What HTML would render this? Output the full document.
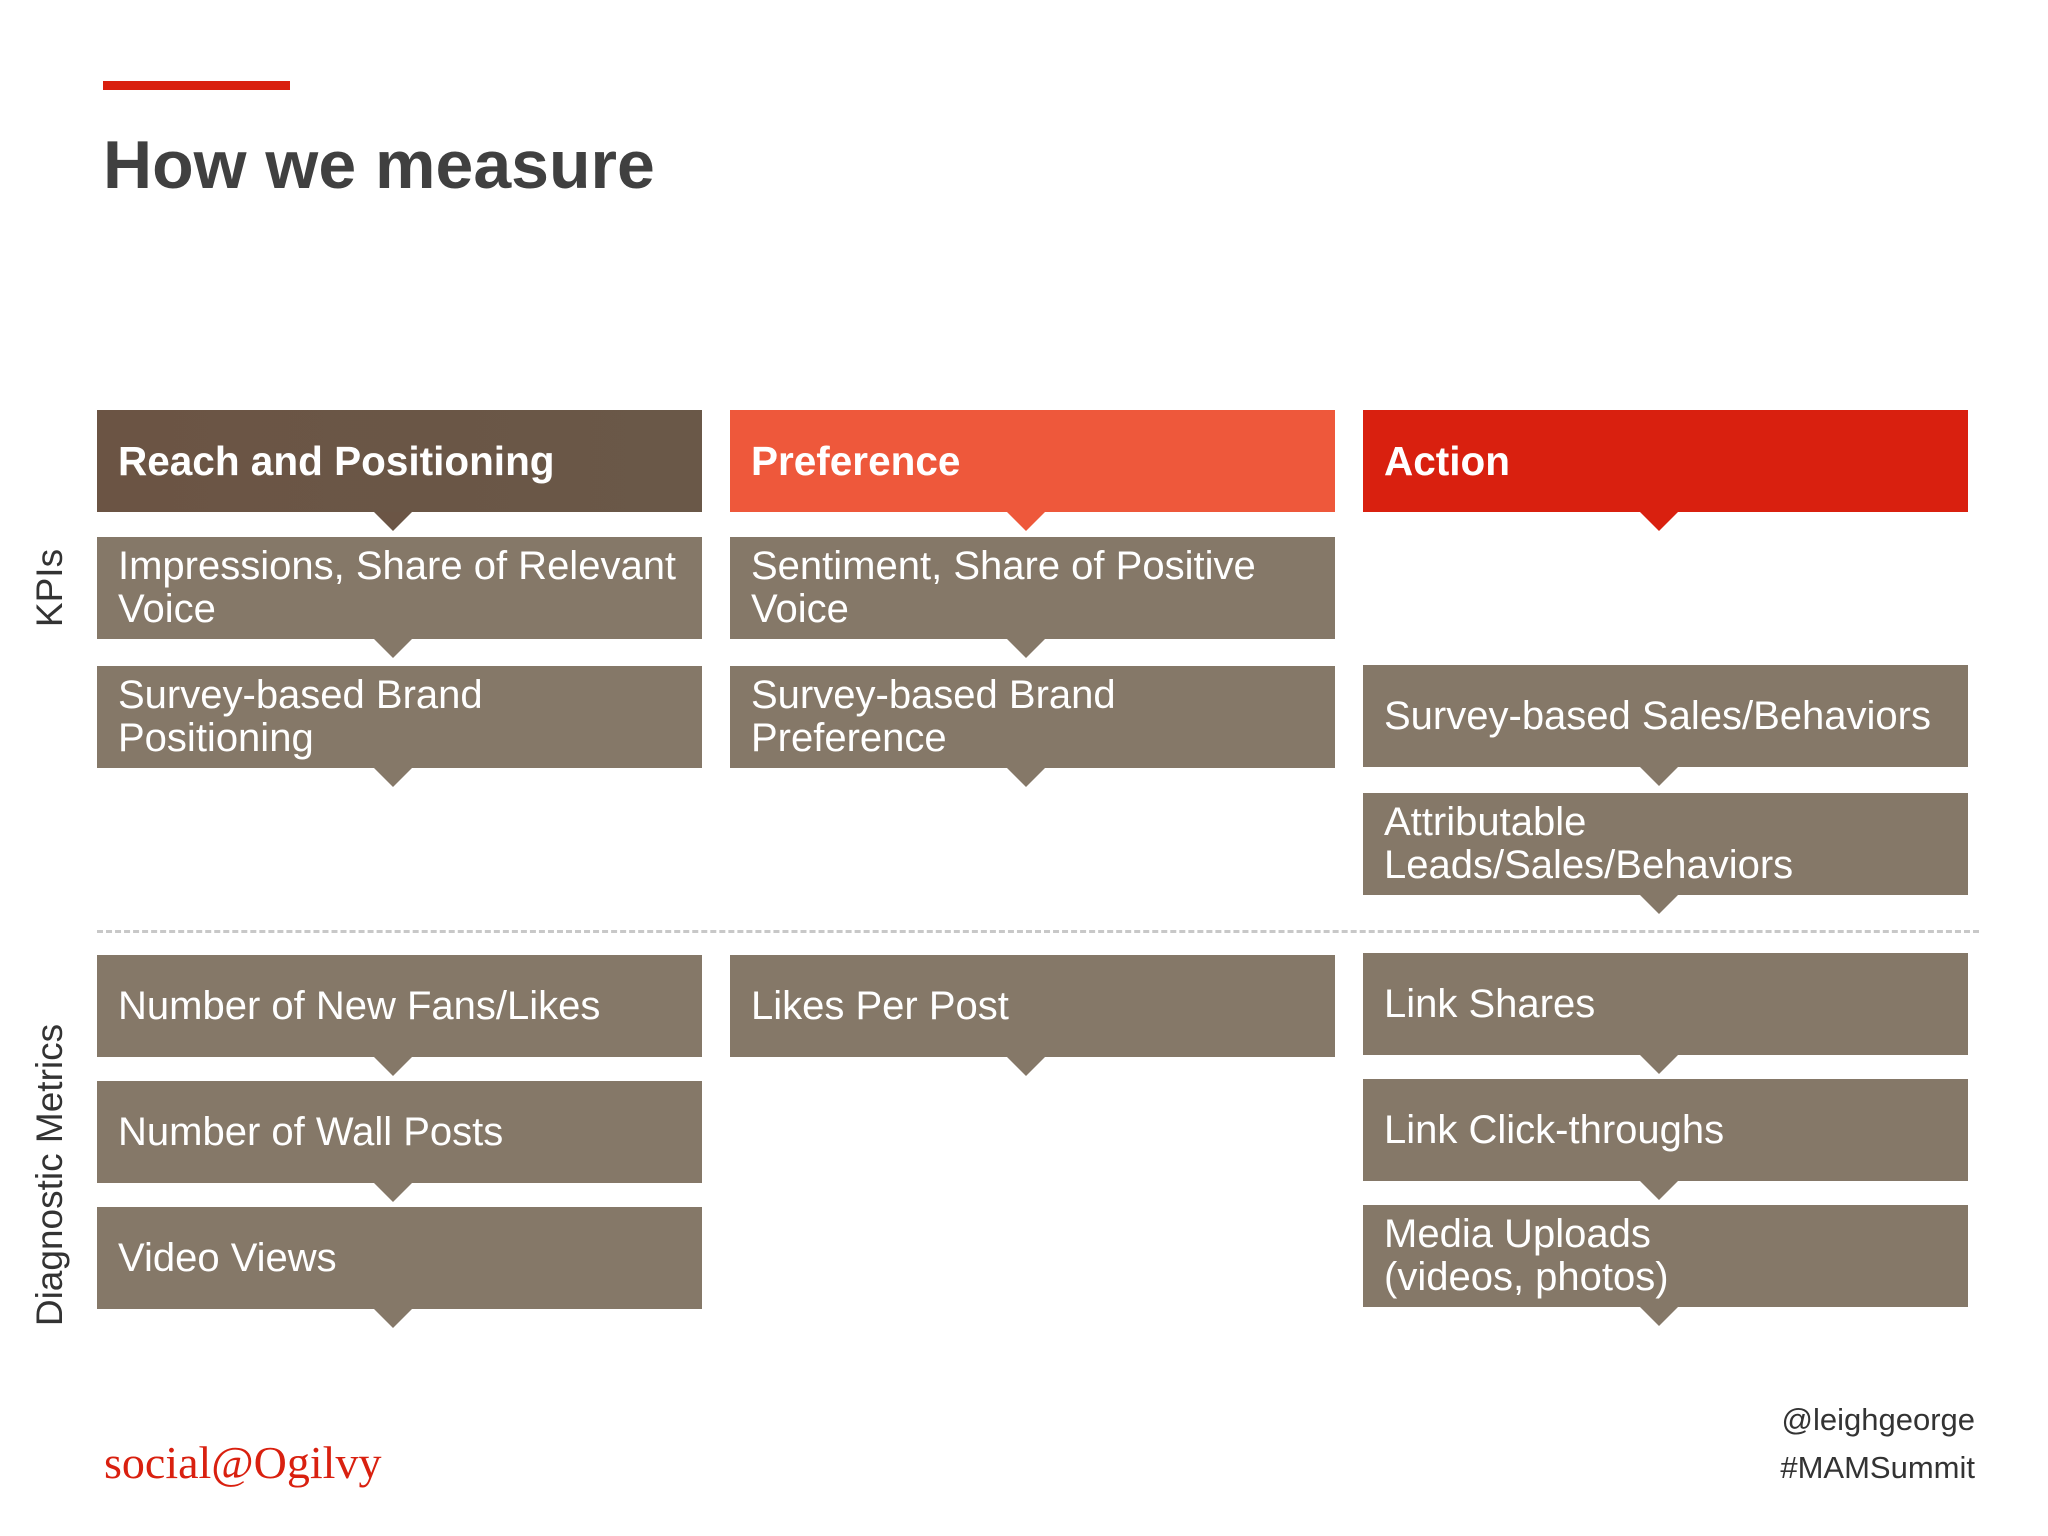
<!DOCTYPE html>
<html><head><meta charset="utf-8"><style>
body{margin:0;width:2048px;height:1536px;background:#fff;position:relative;overflow:hidden;font-family:"Liberation Sans",sans-serif}
.a{position:absolute}
.box{position:absolute;width:605px;height:102px;background:#857868;color:#fff;font-size:40px;line-height:43px;box-sizing:border-box;padding-left:21px;display:flex;align-items:center}
.hd{font-weight:bold;font-size:40.5px}
.tri{position:absolute;width:0;height:0;border-left:19px solid transparent;border-right:19px solid transparent;border-top:19px solid #857868}
</style></head><body>
<div class="a" style="left:103px;top:81px;width:187px;height:9px;background:#d9200f"></div>
<div class="a" style="left:103px;top:126px;font-size:68px;font-weight:bold;color:#404040">How we measure</div>

<div class="a" style="left:50px;top:588px;transform:translate(-50%,-50%) rotate(-90deg);font-size:37px;color:#333;white-space:nowrap">KPIs</div>
<div class="a" style="left:50px;top:1175px;transform:translate(-50%,-50%) rotate(-90deg);font-size:37px;color:#333;white-space:nowrap">Diagnostic Metrics</div>

<div id="c"></div>
<div class="a" style="left:97px;top:930px;width:1882px;border-top:3px dashed #c8c8c8"></div>

<div class="a" style="left:104px;top:1436px;font-family:'Liberation Serif',serif;font-size:46px;color:#d9200f">social@Ogilvy</div>
<div class="a" style="right:73px;top:1402px;font-size:31px;color:#333">@leighgeorge</div>
<div class="a" style="right:73px;top:1450px;font-size:31px;color:#333">#MAMSummit</div>
<script>
const cols=[97,730,1363];
const boxes=[
[0,410,'Reach and Positioning','h1'],[1,410,'Preference','h2'],[2,410,'Action','h3'],
[0,537,'Impressions, Share of Relevant<br>Voice'],[1,537,'Sentiment, Share of Positive<br>Voice'],
[0,666,'Survey-based Brand<br>Positioning'],[1,666,'Survey-based Brand<br>Preference'],
[2,665,'Survey-based Sales/Behaviors'],[2,793,'Attributable<br>Leads/Sales/Behaviors'],
[0,955,'Number of New Fans/Likes'],[1,955,'Likes Per Post'],[2,953,'Link Shares'],
[0,1081,'Number of Wall Posts'],[2,1079,'Link Click-throughs'],
[0,1207,'Video Views'],[2,1205,'Media Uploads<br>(videos, photos)']];
const colors={h1:'linear-gradient(90deg,#6b5444,#6a5848)',h2:'#ee583b',h3:'#d9200f'};
const tc={h1:'#6b5545',h2:'#ee583b',h3:'#d9200f'};
const c=document.getElementById('c');
boxes.forEach((b,i)=>{
 const d=document.createElement('div');
 d.className='box'+(b[3]?' hd':'');
 d.style.left=cols[b[0]]+'px';d.style.top=b[1]+'px';
 if(b[3])d.style.background=colors[b[3]];
 d.innerHTML='<span>'+b[2]+'</span>';
 
 
 c.appendChild(d);
 const t=document.createElement('div');
 t.className='tri';
 t.style.left=(cols[b[0]]+277)+'px';t.style.top=(b[1]+102)+'px';
 if(b[3])t.style.borderTopColor=tc[b[3]];
 
 
 c.appendChild(t);
});
</script>
</body></html>
